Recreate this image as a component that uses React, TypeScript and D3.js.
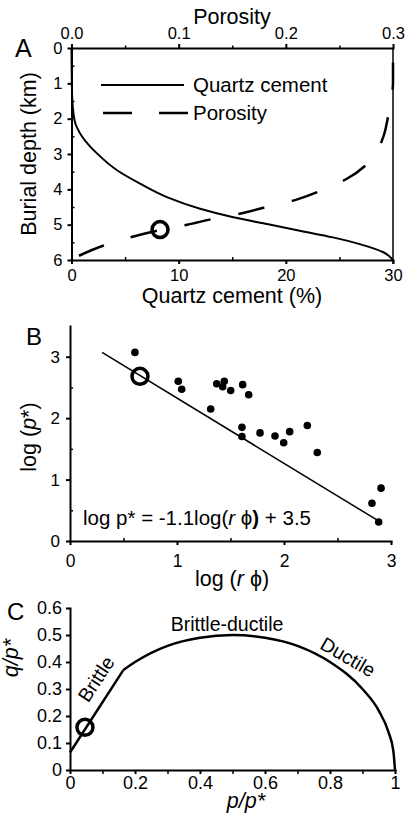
import { useEffect, useRef } from "react";
import * as d3 from "d3";

const FONT = "'Liberation Sans', Arial, Helvetica, sans-serif";

// Panel A: burial depth profiles
const quartzDepth = [0, 1.28, 2.04, 2.51, 2.99, 3.46, 3.84, 4.22, 4.55, 4.79, 4.98, 5.17, 5.36, 5.55, 5.78, 6];
const quartzCement = [0, 0.05, 0.28, 1.0, 2.4, 4.25, 6.4, 8.9, 12.0, 15.1, 18.2, 21.3, 24.4, 26.9, 29.1, 30];
const porosityDepth = [0, 1.0, 1.47, 2.0, 2.51, 3.22, 3.7, 4.01, 4.29, 4.5, 4.69, 4.83, 5.0, 5.17, 5.34, 5.59, 5.88];
const porosityValue = [0.3, 0.3, 0.298, 0.295, 0.291, 0.278, 0.257, 0.235, 0.21, 0.182, 0.157, 0.133, 0.108, 0.08, 0.057, 0.03, 0.007];
const markA = { cement: 8.26, depth: 5.14 };
const depthTicks = [0, 1, 2, 3, 4, 5, 6];
const cementTicks = [0, 10, 20, 30];
const porosityTicks = [0, 0.1, 0.2, 0.3];

// Panel B: log p* vs log(r phi)
const logRPhi = [0.607, 1.012, 1.044, 1.315, 1.371, 1.427, 1.442, 1.502, 1.614, 1.67, 1.607, 1.607, 1.776, 1.916, 1.997, 2.053, 2.218, 2.311, 2.822, 2.907, 2.885];
const logP = [3.07, 2.6, 2.47, 2.15, 2.56, 2.51, 2.6, 2.45, 2.545, 2.38, 1.85, 1.7, 1.76, 1.71, 1.6, 1.78, 1.88, 1.44, 0.615, 0.86, 0.31];
const markB = { x: 0.654, y: 2.68 };
const fitX = [0.3, 2.88];
const fitY = [3.07, 0.33];

// Panel C: yield envelope
const brittleP = [0, 0.164];
const brittleQ = [0.065, 0.37];
const envP = [0.164, 0.2, 0.3, 0.4, 0.5, 0.6, 0.7, 0.8, 0.9, 0.95, 0.98, 0.995, 1.0];
const envQ = [0.37, 0.4, 0.46, 0.49, 0.5, 0.49, 0.46, 0.4, 0.3, 0.22, 0.14, 0.07, 0.0];
const markC = { p: 0.046, q: 0.158 };

const App = () => {
  const ref = useRef<SVGSVGElement>(null);

  useEffect(() => {
    const svg = d3.select(ref.current);
    svg.selectAll("*").remove();

    const styleAxis = (g: any, size: number) => {
      g.select(".domain").attr("stroke-width", 2).attr("stroke-linecap", "square");
      g.selectAll(".tick line").attr("stroke-width", 2);
      g.selectAll(".tick text").attr("font-size", size).attr("font-family", FONT).attr("fill", "#000");
    };
    const minorAxis = (g: any) => {
      g.select(".domain").remove();
      g.selectAll(".tick line").attr("stroke-width", 1.5);
    };
    const txt = (x: number, y: number, s: string, size: number, anchor = "start") =>
      svg.append("text").attr("x", x).attr("y", y).attr("font-family", FONT)
        .attr("font-size", size).attr("text-anchor", anchor).text(s);
    const ring = (cx: number, cy: number) =>
      svg.append("circle").attr("cx", cx).attr("cy", cy).attr("r", 8)
        .attr("fill", "none").attr("stroke", "#000").attr("stroke-width", 3.5);

    // ---------- Panel A ----------
    const xA = d3.scaleLinear().domain([0, 30]).range([71.5, 393]);
    const xPor = d3.scaleLinear().domain([0, 0.3]).range([71.5, 393]);
    const yA = d3.scaleLinear().domain([0, 6]).range([48, 260]);

    svg.append("g").attr("transform", "translate(71.5,0)")
      .call(d3.axisLeft(yA).tickValues(depthTicks).tickSize(4).tickPadding(5).tickSizeOuter(0).tickFormat(d3.format("d")))
      .call((g: any) => styleAxis(g, 16.5));
    svg.append("g").attr("transform", "translate(71.5,0)")
      .call(d3.axisLeft(yA).tickValues([0.5, 1.5, 2.5, 3.5, 4.5, 5.5]).tickSize(-3).tickFormat(() => ""))
      .call(minorAxis);
    svg.append("g").attr("transform", "translate(0,260)")
      .call(d3.axisBottom(xA).tickValues(cementTicks).tickSize(4).tickPadding(5).tickSizeOuter(0).tickFormat(d3.format("d")))
      .call((g: any) => styleAxis(g, 16.5));
    svg.append("g").attr("transform", "translate(0,260)")
      .call(d3.axisBottom(xA).tickValues([5, 15, 25]).tickSize(-3).tickFormat(() => ""))
      .call(minorAxis);
    svg.append("g").attr("transform", "translate(0,48)")
      .call(d3.axisTop(xPor).tickValues(porosityTicks).tickFormat(d3.format(".1f")).tickSize(4).tickPadding(5).tickSizeOuter(0))
      .call((g: any) => styleAxis(g, 16.5));
    svg.append("g").attr("transform", "translate(0,48)")
      .call(d3.axisTop(xPor).tickValues([0.05, 0.15, 0.25]).tickSize(2.5).tickFormat(() => ""))
      .call(minorAxis);
    svg.append("line").attr("x1", xA(30)).attr("x2", xA(30)).attr("y1", yA(0)).attr("y2", yA(6) + 4)
      .attr("stroke", "#000").attr("stroke-width", 1.5);

    const quartzLine = d3.line<number>()
      .x((_, i) => xA(quartzCement[i]))
      .y((d) => yA(d))
      .curve(d3.curveMonotoneY);
    svg.append("path").attr("d", quartzLine(quartzDepth))
      .attr("fill", "none").attr("stroke", "#000").attr("stroke-width", 2);

    const porPts = porosityDepth.map((d, i) => [porosityValue[i], d]).reverse();
    const porLine = d3.line<number[]>()
      .x((d) => xPor(d[0]))
      .y((d) => yA(d[1]))
      .curve(d3.curveMonotoneY);
    svg.append("path").attr("d", porLine(porPts))
      .attr("fill", "none").attr("stroke", "#000").attr("stroke-width", 2.5)
      .attr("stroke-dasharray", "27,28");

    ring(xA(markA.cement), yA(markA.depth));

    // legend
    svg.append("line").attr("x1", 101).attr("x2", 184).attr("y1", 85).attr("y2", 85)
      .attr("stroke", "#000").attr("stroke-width", 2);
    svg.append("line").attr("x1", 103).attr("x2", 188).attr("y1", 113).attr("y2", 113)
      .attr("stroke", "#000").attr("stroke-width", 2.5).attr("stroke-dasharray", "29,27");
    txt(193, 92, "Quartz cement", 20.5);
    txt(193, 120, "Porosity", 20.5);

    txt(232, 24, "Porosity", 21.5, "middle");
    txt(232, 303, "Quartz cement (%)", 21.5, "middle");
    svg.append("text").attr("transform", "translate(36,154) rotate(-90)")
      .attr("font-family", FONT).attr("font-size", 21.5).attr("text-anchor", "middle")
      .text("Burial depth (km)");
    txt(15, 57, "A", 25);

    // ---------- Panel B ----------
    const xB = d3.scaleLinear().domain([0, 3]).range([70, 391]);
    const yB = d3.scaleLinear().domain([0, 3.5]).range([541, 326]);

    svg.append("g").attr("transform", "translate(70,0)")
      .call(d3.axisLeft(yB).tickValues([0, 1, 2, 3]).tickSize(4).tickPadding(6).tickSizeOuter(0).tickFormat(d3.format("d")))
      .call((g: any) => styleAxis(g, 17));
    svg.append("g").attr("transform", "translate(70,0)")
      .call(d3.axisLeft(yB).tickValues([0.5, 1.5, 2.5]).tickSize(-3).tickFormat(() => ""))
      .call(minorAxis);
    svg.append("g").attr("transform", "translate(0,541)")
      .call(d3.axisBottom(xB).tickValues([0, 1, 2, 3]).tickSize(4).tickPadding(10).tickSizeOuter(0).tickFormat(d3.format("d")))
      .call((g: any) => styleAxis(g, 17.5));
    svg.append("g").attr("transform", "translate(0,541)")
      .call(d3.axisBottom(xB).tickValues([0.5, 1.5, 2.5]).tickSize(-3).tickFormat(() => ""))
      .call(minorAxis);

    svg.append("line").attr("x1", xB(fitX[0])).attr("y1", yB(fitY[0]))
      .attr("x2", xB(fitX[1])).attr("y2", yB(fitY[1]))
      .attr("stroke", "#000").attr("stroke-width", 1.5);

    svg.append("g").selectAll("circle").data(logRPhi).enter().append("circle")
      .attr("cx", (d) => xB(d)).attr("cy", (_, i) => yB(logP[i])).attr("r", 3.8).attr("fill", "#000");
    ring(xB(markB.x), yB(markB.y));

    const eq = svg.append("text").attr("x", 83).attr("y", 525).attr("font-family", FONT).attr("font-size", 20.5);
    eq.append("tspan").text("log p* = -1.1log(");
    eq.append("tspan").attr("font-style", "italic").text("r");
    eq.append("tspan").text(" \u03d5");
    eq.append("tspan").attr("font-weight", "bold").text(")");
    eq.append("tspan").text(" + 3.5");

    const xlB = svg.append("text").attr("x", 232).attr("y", 586).attr("font-family", FONT)
      .attr("font-size", 21.5).attr("text-anchor", "middle");
    xlB.append("tspan").text("log (");
    xlB.append("tspan").attr("font-style", "italic").text("r");
    xlB.append("tspan").text(" \u03d5)");

    const ylB = svg.append("text").attr("transform", "translate(36,437) rotate(-90)")
      .attr("font-family", FONT).attr("font-size", 21.5).attr("text-anchor", "middle");
    ylB.append("tspan").text("log (");
    ylB.append("tspan").attr("font-style", "italic").text("p");
    ylB.append("tspan").text("*)");
    txt(26, 345, "B", 24);

    // ---------- Panel C ----------
    const xC = d3.scaleLinear().domain([0, 1]).range([70, 395]);
    const yC = d3.scaleLinear().domain([0, 0.6]).range([770, 608]);
    const fmtC = (d: any) => (d === 0 ? "0" : d === 1 ? "1" : d3.format(".1f")(d));

    svg.append("g").attr("transform", "translate(70,0)")
      .call(d3.axisLeft(yC).tickValues([0, 0.1, 0.2, 0.3, 0.4, 0.5, 0.6]).tickSize(4).tickPadding(4).tickSizeOuter(0).tickFormat(fmtC))
      .call((g: any) => styleAxis(g, 18));
    svg.append("g").attr("transform", "translate(0,770)")
      .call(d3.axisBottom(xC).tickValues([0, 0.2, 0.4, 0.6, 0.8, 1]).tickSize(4).tickPadding(2).tickSizeOuter(0).tickFormat(fmtC))
      .call((g: any) => styleAxis(g, 18));
    svg.append("g").attr("transform", "translate(0,770)")
      .call(d3.axisBottom(xC).tickValues([0.1, 0.3, 0.5, 0.7, 0.9]).tickSize(4).tickFormat(() => ""))
      .call(minorAxis);

    const brittleLine = d3.line<number>().x((d) => xC(d)).y((_, i) => yC(brittleQ[i]));
    svg.append("path").attr("d", brittleLine(brittleP))
      .attr("fill", "none").attr("stroke", "#000").attr("stroke-width", 2.5);
    const envLine = d3.line<number>().x((d) => xC(d)).y((_, i) => yC(envQ[i])).curve(d3.curveMonotoneX);
    svg.append("path").attr("d", envLine(envP))
      .attr("fill", "none").attr("stroke", "#000").attr("stroke-width", 2.5).attr("stroke-linejoin", "round");
    ring(xC(markC.p), yC(markC.q));

    txt(227, 631, "Brittle-ductile", 19.5, "middle");
    svg.append("text").attr("transform", "translate(96,679) rotate(-57)").attr("dy", "0.35em")
      .attr("font-family", FONT).attr("font-size", 19.5).attr("text-anchor", "middle").text("Brittle");
    svg.append("text").attr("transform", "translate(348,657) rotate(30)").attr("dy", "0.35em")
      .attr("font-family", FONT).attr("font-size", 19.5).attr("text-anchor", "middle").text("Ductile");

    const xlC = svg.append("text").attr("x", 246).attr("y", 808).attr("font-family", FONT)
      .attr("font-size", 21.5).attr("text-anchor", "middle").attr("font-style", "italic");
    xlC.append("tspan").text("p/p*");
    const ylC = svg.append("text").attr("transform", "translate(18,658) rotate(-90)")
      .attr("font-family", FONT).attr("font-size", 21.5).attr("text-anchor", "middle").attr("font-style", "italic");
    ylC.append("tspan").text("q/p*");
    txt(7, 620, "C", 24);
  }, []);

  return (
    <svg ref={ref} width={407} height={823}
      style={{ position: "absolute", left: 0, top: 0, background: "#fff" }} />
  );
};

export default App;
